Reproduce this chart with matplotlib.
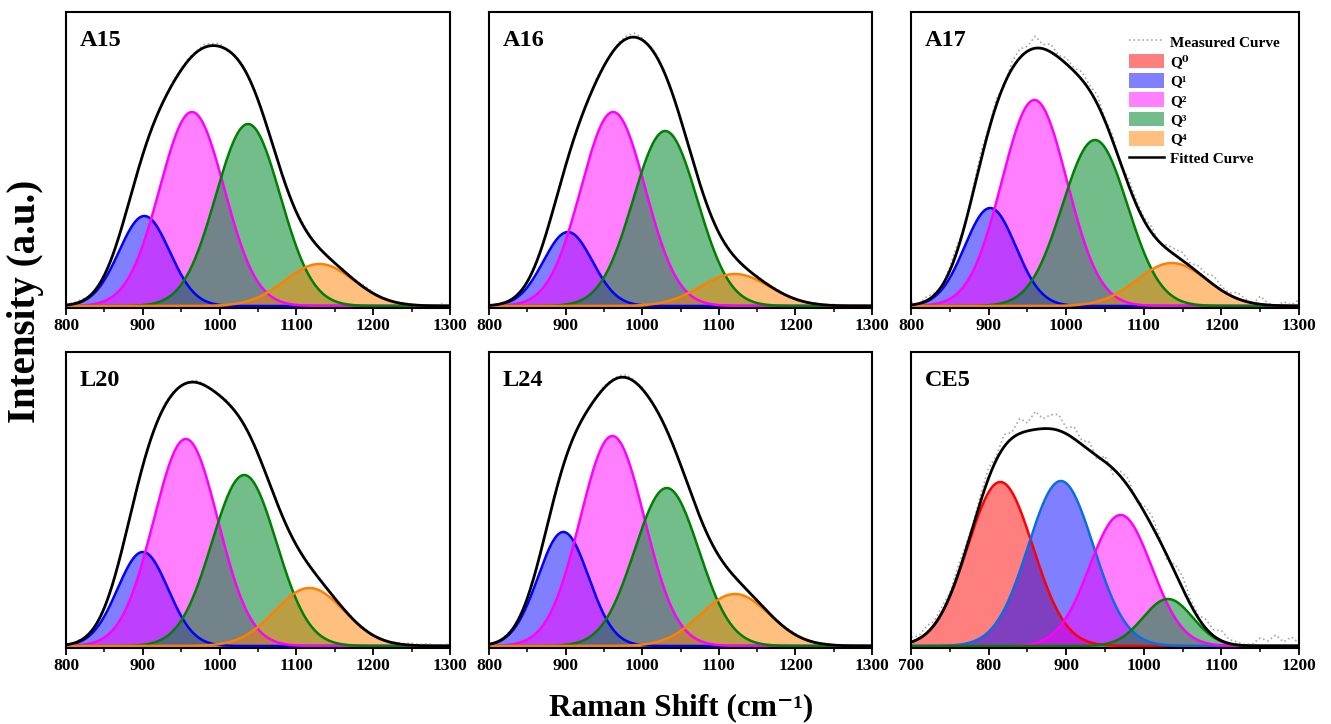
import numpy as np
import matplotlib
matplotlib.use("Agg")
from matplotlib import pyplot as plt
from matplotlib.patches import Patch
from matplotlib.lines import Line2D
from matplotlib.ticker import MultipleLocator

plt.rcParams['font.family'] = ['Liberation Serif', 'DejaVu Serif']
plt.rcParams['font.weight'] = 'bold'

# panel names and x ranges (cm-1)
panels = ['A15', 'A16', 'A17', 'L20', 'L24', 'CE5']
x_start = [800, 800, 800, 800, 800, 700]
x_end = [1300, 1300, 1300, 1300, 1300, 1200]

# gaussian components per panel: Q-species index, centre (cm-1), height (a.u.), sigma (cm-1)
species = {
    'A15': [1, 2, 3, 4], 'A16': [1, 2, 3, 4], 'A17': [1, 2, 3, 4],
    'L20': [1, 2, 3, 4], 'L24': [1, 2, 3, 4], 'CE5': [0, 1, 2, 3],
}
centres = {
    'A15': [902, 964, 1037, 1130],
    'A16': [903, 962, 1030, 1121],
    'A17': [902, 959, 1037, 1136],
    'L20': [900, 956, 1032, 1117],
    'L24': [897, 961, 1032, 1121],
    'CE5': [815, 893, 970, 1031],
}
heights = {
    'A15': [90, 194, 182, 42],
    'A16': [74, 194, 175, 32],
    'A17': [98, 206, 166, 43],
    'L20': [94, 207, 171, 58],
    'L24': [114, 210, 158, 52],
    'CE5': [164, 165, 131, 47],
}
sigmas = {
    'A15': [33, 42, 42, 45],
    'A16': [32, 42, 42, 45],
    'A17': [33, 42, 42, 45],
    'L20': [33, 42, 42, 45],
    'L24': [33, 42, 42, 45],
    'CE5': [42, 42, 40, 32],
}

# measured curve: deviation of the measured points from the fit, every 10 cm-1
measured_dev = {
    'A15': [1, 1, 2, 0, -1, 1, 0, -1, 1, 0, 1, -1, 1, 0, 2, 1, 2, 1, 3, 2, 3, -1, 1, 2, -1, 1,
            0, 1, -1, 0, 1, 2, 1, 0, 1, -1, 1, 0, 1, 2, 1, 0, 1, 0, 1, 0, 0, 1, 0, 2, 0],
    'A16': [1, 0, 1, 0, 1, -1, 1, 0, 1, 1, 0, 1, -1, 1, 2, 1, 0, 2, 3, 4, 2, 1, 2, -1, 1, 0,
            1, 2, 0, 1, -1, 1, 0, 1, 0, 1, 0, 1, 1, 0, 1, 0, 0, 1, 0, 1, 0, 1, 0, 0, 1],
    'A17': [3, -1, 4, 2, -2, 4, 6, -3, 5, 8, 3, 6, -2, 7, 9, 5, 12, 4, 8, 2, 6, 3, 8, 5, 9, 2,
            6, -3, 7, 4, 3, 6, -2, 4, 6, 8, 3, 7, 5, 9, 4, 2, 6, 3, -1, 8, 2, -1, 4, 1, 6],
    'L20': [1, 0, 1, 1, 0, 1, -1, 0, 1, 0, 1, 0, 1, 2, 1, 0, 1, 2, 1, 0, 1, 2, 0, 1, 0, -1,
            1, 2, 1, 0, 1, 0, 1, 0, 1, 1, 0, 1, 0, 1, 0, 1, 0, 1, 1, 2, 1, 2, 1, 1, 2],
    'L24': [1, 0, 1, 0, 1, 0, -1, 1, 0, 1, 1, 0, 1, 0, 1, 2, 1, 2, 3, 1, 2, 0, 1, 2, 1, 0,
            1, -1, 1, 0, 1, 0, 1, 1, 0, 1, 0, 1, 0, 1, 1, 0, 1, 0, 1, 0, 1, 0, 1, 0, 1],
    'CE5': [5, 3, 7, 4, 6, 3, 8, 5, 2, 7, 10, 4, 12, 6, 15, 8, 18, 10, 14, 16, 6, 12, 4, 8,
            -4, 6, -6, 5, 8, -3, 6, 10, 4, -5, 8, 12, 5, 3, 9, 6, 10, 4, 3, 1, 2, 8, 5, 11, 4, 9, 3],
}

q_labels = ['Q⁰', 'Q¹', 'Q²', 'Q³', 'Q⁴']
q_fill = ['#ff0000', '#0000ff', '#ff00ff', '#00882a', '#ff8000']
q_edge = ['#ff0000', '#0000ff', '#ff00ff', '#008000', '#ff8000']
q_alpha = [0.5, 0.5, 0.5, 0.55, 0.5]


def gauss(x, c, h, s):
    return h * np.exp(-(x - c) ** 2 / (2 * s ** 2))


fig = plt.figure(figsize=(13.31, 7.24), dpi=100)

# axes boxes in figure fractions [left, bottom, width, height]
lefts = [0.0496, 0.3674, 0.6845]
widths = [0.2885, 0.2878, 0.2915]
bottoms = [0.5746, 0.105]
h = 0.4088

for i, name in enumerate(panels):
    row, col = divmod(i, 3)
    ax = fig.add_axes([lefts[col], bottoms[row], widths[col], h])
    x = np.linspace(x_start[i], x_end[i], 801)
    total = np.zeros_like(x)

    for q, c, hh, s in zip(species[name], centres[name], heights[name], sigmas[name]):
        y = gauss(x, c, hh, s)
        total += y
        edge = q_edge[q]
        if name == 'CE5' and q == 1:
            edge = '#0a6ee0'
        ax.fill_between(x, 0, y, color=q_fill[q], alpha=q_alpha[q], lw=0)
        ax.plot(x, y, color=edge, lw=1.8)

    # measured curve = fit + read-off deviations on a 10 cm-1 grid
    xm = np.arange(x_start[i], x_end[i] + 1, 10)
    fit_m = sum(gauss(xm, c, hh, s) for c, hh, s in
                zip(centres[name], heights[name], sigmas[name]))
    ax.plot(xm, fit_m + np.array(measured_dev[name]), color='#a8a8a8', lw=1.2, ls=':')

    ax.plot(x, total, color='black', lw=2)

    ax.set_xlim(x_start[i], x_end[i])
    ax.set_ylim(-2, 294)
    ax.set_yticks([])
    ax.xaxis.set_major_locator(MultipleLocator(100))
    ax.xaxis.set_minor_locator(MultipleLocator(50))
    ax.tick_params(axis='x', which='major', direction='out', length=5, width=1.3,
                   labelsize=12.5, pad=2)
    ax.tick_params(axis='x', which='minor', direction='out', length=3, width=1.1)
    for lab in ax.get_xticklabels():
        lab.set_fontweight('bold')
    for sp in ax.spines.values():
        sp.set_linewidth(1.5)
    ax.text(0.035, 0.905, name, transform=ax.transAxes, fontsize=17.5,
            fontweight='bold', ha='left', va='center')

    if name == 'A17':
        handles = [Line2D([], [], color='#a8a8a8', lw=1.2, ls=':')]
        for q in range(5):
            handles.append(Patch(facecolor=q_fill[q], alpha=q_alpha[q], edgecolor='none'))
        handles.append(Line2D([], [], color='black', lw=1.8))
        labels = ['Measured Curve'] + q_labels + ['Fitted Curve']
        ax.legend(handles, labels, loc='upper left', bbox_to_anchor=(0.561, 0.925),
                  frameon=False, handlelength=2.3, handleheight=1.1,
                  labelspacing=0.25, handletextpad=0.4, borderpad=0, borderaxespad=0,
                  prop={'weight': 'bold', 'size': 11})

fig.text(0.512, 0.022, 'Raman Shift (cm⁻¹)', fontsize=22.5, fontweight='bold',
         ha='center', va='center')
fig.text(0.019, 0.584, 'Intensity (a.u.)', fontsize=28, fontweight='bold',
         ha='center', va='center', rotation=90)

fig.savefig('out.png', dpi=100)
